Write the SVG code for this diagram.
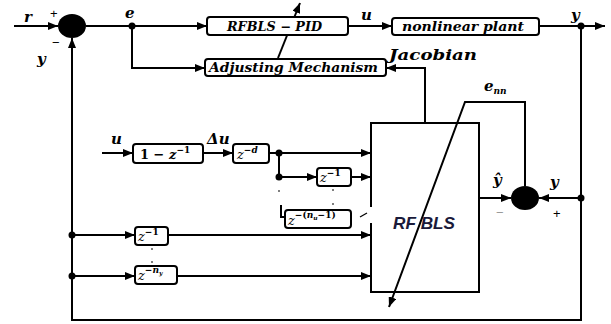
<svg xmlns="http://www.w3.org/2000/svg" width="611" height="324" viewBox="0 0 611 324">
<style>
.ln{fill:none;stroke:#000;stroke-width:2;}
.arr{marker-end:url(#ah);}
.box{fill:#fff;stroke:#000;stroke-width:2;}
.bt{font-family:"DejaVu Serif","Liberation Serif",serif;font-weight:bold;font-style:italic;font-size:12px;fill:#000;}
.lb{font-family:"DejaVu Serif","Liberation Serif",serif;font-weight:bold;font-style:italic;font-size:15px;fill:#000;}
.mt{font-family:"DejaVu Serif","Liberation Serif",serif;font-size:13px;fill:#000;}
.zi{font-style:italic;}
.sup{font-size:9px;font-weight:bold;}
.sg{font-family:"Liberation Sans",sans-serif;font-size:13px;fill:#000;}
.dot{fill:#000;}
.sd{fill:#555;}
</style>
<defs>
<marker id="ah" viewBox="0 0 10 8" refX="10" refY="4" markerWidth="10" markerHeight="8" markerUnits="userSpaceOnUse" orient="auto">
<path d="M0,0 L10,4 L0,8 z" fill="#000"/>
</marker>
</defs>
<g id="connectors">
<path class="ln arr" d="M14,26 H58"/>
<path class="ln arr" d="M86,26 H207"/>
<path class="ln arr" d="M132,26 V68 H205"/>
<path class="ln arr" d="M348,26 H392"/>
<path class="ln arr" d="M539,26 H605"/>
<path class="ln arr" d="M581,26 V320 H72 V38"/>
<path class="ln arr" d="M581,198 H539"/>
<path class="ln arr" d="M425,123 V68 H386"/>
<path class="ln arr" d="M278,58 L300,3"/>
<path class="ln arr" d="M479,198 H511"/>
<path class="ln arr" d="M525,186 V102 H465 L389,307"/>
<path class="ln arr" d="M102,153 H133"/>
<path class="ln arr" d="M203,153 H233"/>
<path class="ln arr" d="M269,153 H371"/>
<path class="ln arr" d="M279,153 V177 H317"/>
<path class="ln arr" d="M351,177 H371"/>
<path class="ln" d="M281,205 V217 H285"/>
<path class="ln arr" d="M72,235 H135"/>
<path class="ln arr" d="M168,235 H371"/>
<path class="ln arr" d="M72,276 H135"/>
<path class="ln arr" d="M177,276 H371"/>
<path d="M360,217 L367,213" stroke="#000" stroke-width="1.2" fill="none"/>
<circle class="dot" cx="132" cy="26" r="3.5"/>
<circle class="dot" cx="581" cy="26" r="3.5"/>
<circle class="dot" cx="581" cy="198" r="3.5"/>
<circle class="dot" cx="279" cy="153" r="3.5"/>
<circle class="dot" cx="279" cy="177" r="3.5"/>
<circle class="dot" cx="72" cy="235" r="3.5"/>
<circle class="dot" cx="72" cy="276" r="3.5"/>
<circle class="sd" cx="279" cy="191" r="1"/>
<circle class="sd" cx="333" cy="190" r="1"/>
<circle class="sd" cx="333" cy="204" r="1"/>
<circle class="sd" cx="152" cy="249" r="1"/>
<circle class="sd" cx="152" cy="262" r="1"/>
</g>
<g id="sum1">
<ellipse cx="72" cy="26" rx="14" ry="12" fill="#000"/>
<text class="sg" x="50" y="18">+</text>
<text class="sg" x="52" y="47">−</text>
</g>
<g id="sum2">
<ellipse cx="525" cy="198" rx="14" ry="12" fill="#000"/>
<text class="sg" x="496" y="217" style="fill:#999">−</text>
<text class="sg" x="553" y="218">+</text>
</g>
<g id="pid">
<rect class="box" x="207" y="17" width="141" height="18" rx="3"/>
<text class="bt" x="227" y="31" textLength="95" lengthAdjust="spacingAndGlyphs">RFBLS − PID</text>
</g>
<g id="plant">
<rect class="box" x="392" y="18" width="147" height="17" rx="3"/>
<text class="bt" x="402" y="31" textLength="122" lengthAdjust="spacingAndGlyphs">nonlinear plant</text>
</g>
<g id="adjust">
<rect class="box" x="205" y="59" width="181" height="17" rx="3"/>
<text class="bt" x="209" y="72" textLength="169" lengthAdjust="spacingAndGlyphs">Adjusting Mechanism</text>
</g>
<g id="rfbls">
<path class="ln" d="M371,207 V123 H479 V292 H371 V223"/>
<text x="393" y="229" font-family="Liberation Sans, sans-serif" font-weight="bold" font-style="italic" font-size="17" fill="#1a1a3a" textLength="62" lengthAdjust="spacingAndGlyphs">RF BLS</text>
</g>
<g id="diff">
<rect class="box" x="133" y="144" width="70" height="19" rx="3"/>
<text class="mt" x="140" y="159" font-weight="bold">1 − <tspan class="zi">z</tspan><tspan class="sup" dy="-6">−1</tspan></text>
</g>
<g id="delay-d">
<rect class="box" x="233" y="144" width="36" height="19" rx="3"/>
<text class="mt" x="237" y="159"><tspan class="zi">z</tspan><tspan class="sup" dy="-6" font-style="italic">−d</tspan></text>
</g>
<g id="delay-u1">
<rect class="box" x="317" y="168" width="34" height="18" rx="3"/>
<text class="mt" x="320" y="182"><tspan class="zi">z</tspan><tspan class="sup" dy="-6">−1</tspan></text>
</g>
<g id="delay-unu">
<rect class="box" x="285" y="210" width="66" height="18" rx="3"/>
<text class="mt" x="288" y="225"><tspan class="zi">z</tspan><tspan class="sup" dy="-7">−(<tspan font-style="italic">n<tspan font-size="6" dy="2">u</tspan></tspan><tspan dy="-2">−1)</tspan></tspan></text>
</g>
<g id="delay-y1">
<rect class="box" x="135" y="227" width="33" height="18" rx="3"/>
<text class="mt" x="138" y="241"><tspan class="zi">z</tspan><tspan class="sup" dy="-6">−1</tspan></text>
</g>
<g id="delay-yny">
<rect class="box" x="135" y="266" width="42" height="18" rx="3"/>
<text class="mt" x="138" y="280"><tspan class="zi">z</tspan><tspan class="sup" dy="-7">−<tspan font-style="italic">n<tspan font-size="6" dy="2">y</tspan></tspan></tspan></text>
</g>
<g id="labels">
<text class="lb" x="24" y="22">r</text>
<text class="lb" x="37" y="64">y</text>
<text class="lb" x="125" y="18">e</text>
<text class="lb" x="361" y="20">u</text>
<text class="lb" x="571" y="20">y</text>
<text class="lb" x="389" y="60" textLength="88" lengthAdjust="spacingAndGlyphs">Jacobian</text>
<text class="lb" x="484" y="91">e<tspan font-size="9" dy="3">nn</tspan></text>
<text class="lb" x="493" y="185">ŷ</text>
<text class="lb" x="550" y="187">y</text>
<text class="lb" x="111" y="144">u</text>
<text class="lb" x="207" y="144" font-style="normal">Δ<tspan font-style="italic">u</tspan></text>
</g>
</svg>
